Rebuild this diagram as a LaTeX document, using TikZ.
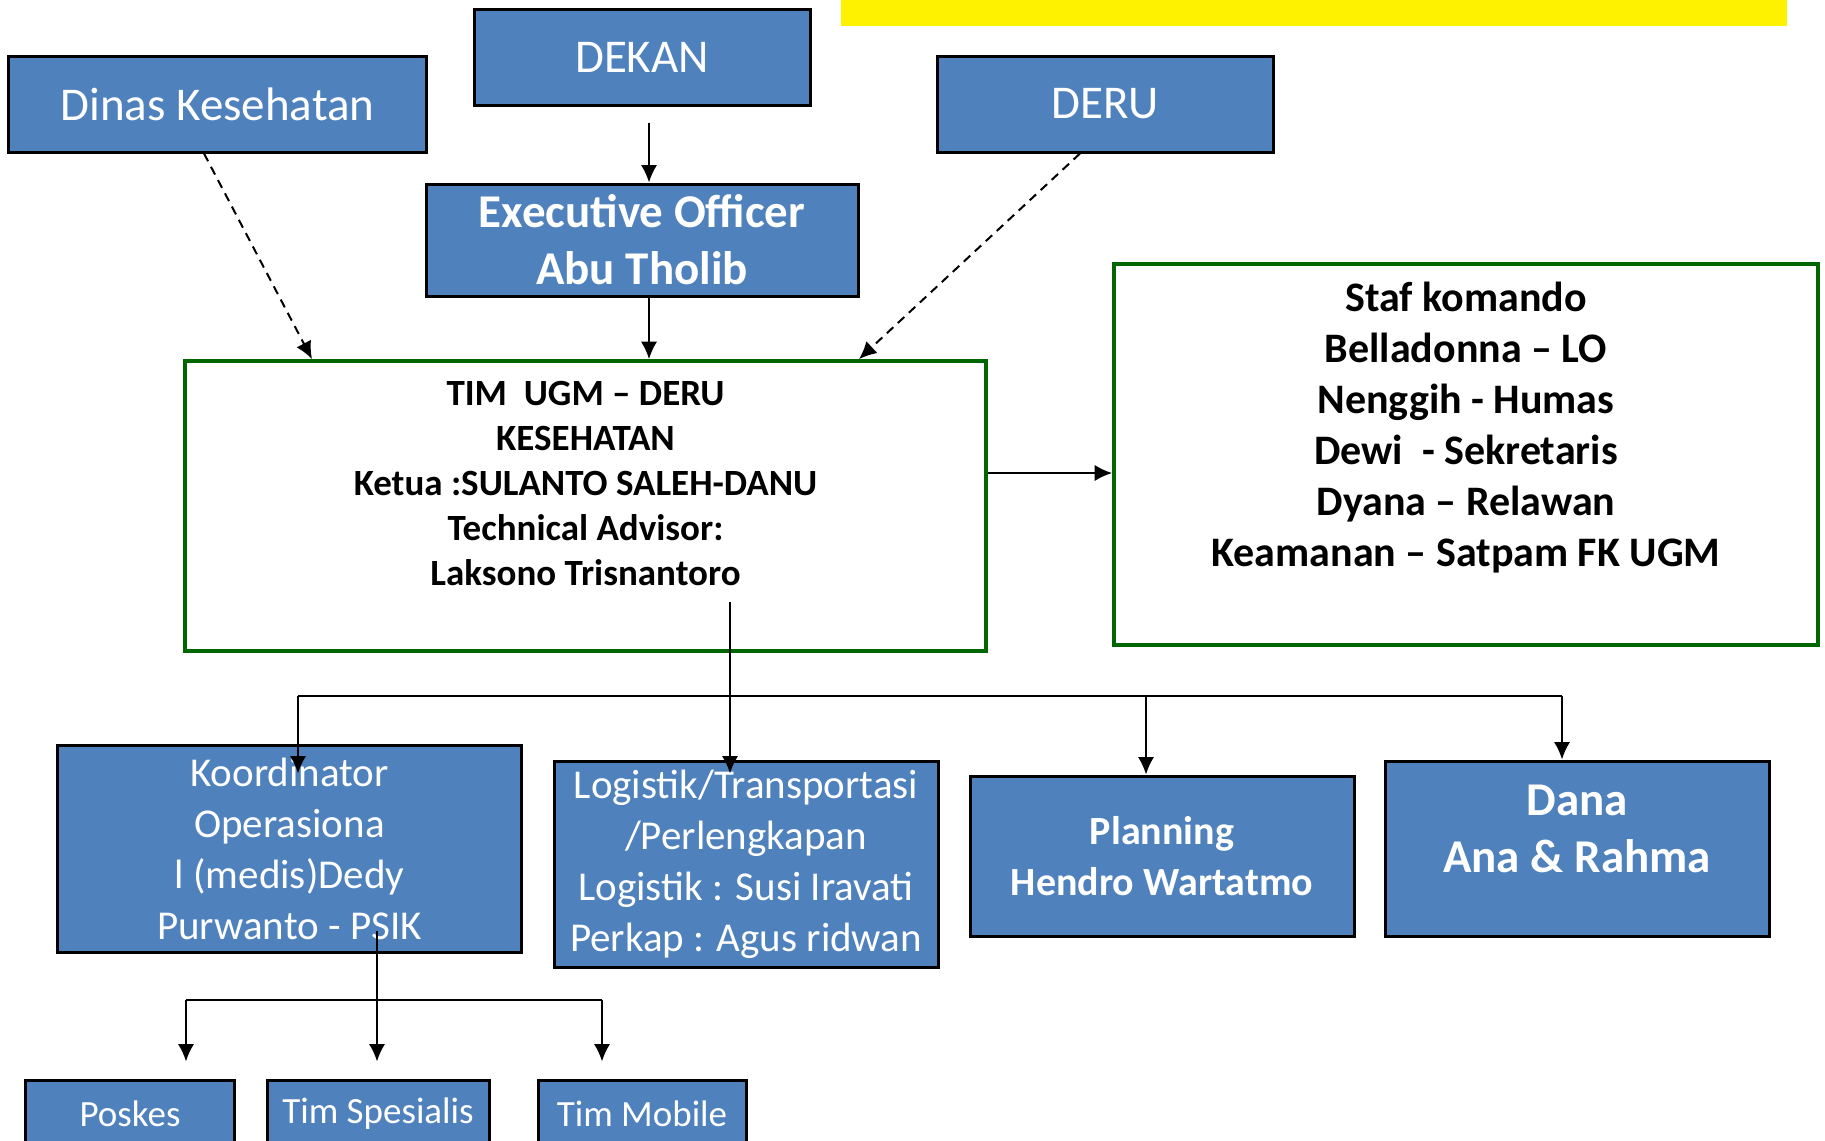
\documentclass[tikz,border=0pt]{standalone}
\usepackage{fontspec}
\setmainfont{Carlito}
\usetikzlibrary{arrows.meta}
\definecolor{boxblue}{RGB}{79,129,189}
\definecolor{boxgreen}{RGB}{0,102,0}
\tikzset{
  bluebox/.style={draw=black, line width=1.2pt, fill=boxblue, text=white,
    inner sep=0pt, align=center},
  greenbox/.style={draw=boxgreen, line width=1.5pt, inner sep=0pt},
  link/.style={line width=0.8pt},
  arr/.style={link, -{Latex[length=7pt,width=6.5pt]}},
  dasharr/.style={arr, dash pattern=on 3.5pt off 2.5pt},
}
\begin{document}
\begin{tikzpicture}[x=0.4pt, y=-0.4pt]
  \useasboundingbox (0,0) rectangle (1825,1140);
  \clip (0,0) rectangle (1825,1140);
  \fill[yellow] (841,0) rectangle (1787,26);

  \node[bluebox, minimum width=166.8pt, minimum height=38.4pt,
    font=\fontsize{18.8}{22.8}\selectfont] (dinas) at (217.5,104) {Dinas Kesehatan};
  \node[bluebox, minimum width=134.4pt, minimum height=38.4pt,
    font=\fontsize{18.8}{22.8}\selectfont] (dekan) at (642,57) {DEKAN};
  \node[bluebox, minimum width=134.4pt, minimum height=38.4pt,
    font=\fontsize{18.8}{22.8}\selectfont] (deru) at (1105,104) {DERU};
  \node[bluebox, minimum width=172.8pt, minimum height=44.8pt,
    font=\bfseries\fontsize{18.8}{22.8}\selectfont] (eo) at (642,240)
    {Executive Officer\\Abu Tholib};

  %%%%
  \node[greenbox, minimum width=320.4pt, minimum height=116pt] (tim) at (585.5,506) {};
  \node[align=center, font=\bfseries\fontsize{14.8}{18}\selectfont] (timtext)
    at (585.5,483.6) {TIM~ UGM -- DERU\\KESEHATAN\\Ketua :SULANTO SALEH-DANU\\
    Technical Advisor:\\Laksono Trisnantoro};
  \node[greenbox, minimum width=281.6pt, minimum height=152.4pt] (staf) at (1466,454.5) {};
  \node[align=center, font=\bfseries\fontsize{16.8}{20.4}\selectfont] (staftext)
    at (1466,428) {Staf komando\\Belladonna -- LO\\Nenggih - Humas\\Dewi~ - Sekretaris\\
    Dyana -- Relawan\\Keamanan -- Satpam FK UGM};

  %%%%
  \node[bluebox, minimum width=185.2pt, minimum height=82.8pt,
    font=\fontsize{16.4}{20.4}\selectfont] (kor) at (289.5,848.5)
    {Koordinator\\Operasiona\\l (medis)Dedy\\Purwanto - PSIK};
  \node[bluebox, minimum width=153.6pt, minimum height=82.4pt,
    font=\fontsize{16.4}{20.4}\selectfont] (logi) at (746,864)
    {Logistik/Transportasi\\/Perlengkapan\\Logistik : Susi Iravati\\Perkap : Agus ridwan};
  \node[bluebox, minimum width=153.6pt, minimum height=64pt,
    font=\bfseries\fontsize{16}{20.4}\selectfont] (plan) at (1162,856)
    {Planning\\Hendro Wartatmo};
  \node[bluebox, minimum width=153.6pt, minimum height=70pt] (dana) at (1577,848.5) {};
  \node[align=center, text=white, font=\bfseries\fontsize{18.8}{22.8}\selectfont]
    (danatext) at (1577,829) {Dana\\Ana \& Rahma};

  \node[bluebox, minimum width=83.2pt, minimum height=27.2pt,
    font=\fontsize{14.8}{18}\selectfont] (posk) at (130,1114) {Poskes};
  \node[bluebox, minimum width=88.8pt, minimum height=27.2pt,
    font=\fontsize{14.8}{18}\selectfont] (spes) at (378,1114) {Tim Spesialis};
  \node[bluebox, minimum width=83.2pt, minimum height=27.2pt,
    font=\fontsize{14.8}{18}\selectfont] (mob) at (642,1114) {Tim Mobile};

  %%%% connectors
  \draw[arr, shorten <=6.4pt] (dekan.south -| 649,0) -- (eo.north -| 649,0);
  \draw[arr] (eo.south -| 649,0) -- (tim.north -| 649,0);
  \draw[dasharr] (dinas.south -| 204,0) -- (tim.north -| 312,0);
  \draw[dasharr] (deru.south -| 1080,0) -- (tim.north -| 859,0);
  \draw[arr] (tim.east |- 0,473) -- (staf.west |- 0,473);

  \coordinate (timout) at (730,602);
  \coordinate (busl) at (298,696);
  \coordinate (busr) at (1562,696);
  \draw[link] (busl) -- (busr);
  \draw[arr, shorten >=-5.6pt] (timout) -- (logi.north -| timout);
  \draw[arr, shorten >=-12pt] (busl) -- (kor.north -| busl);
  \draw[arr] (busl -| 1146,0) -- (plan.north -| 1146,0);
  \draw[arr] (busr) -- (dana.north -| busr);

  \coordinate (korout) at (377,931);
  \coordinate (bustwol) at (186,1000);
  \coordinate (bustwor) at (602,1000);
  \draw[link] (bustwol) -- (bustwor);
  \draw[arr, shorten >=6.8pt] (korout) -- (spes.north -| korout);
  \draw[arr, shorten >=6.8pt] (bustwol) -- (posk.north -| bustwol);
  \draw[arr, shorten >=6.8pt] (bustwor) -- (mob.north -| bustwor);
\end{tikzpicture}
\end{document}
